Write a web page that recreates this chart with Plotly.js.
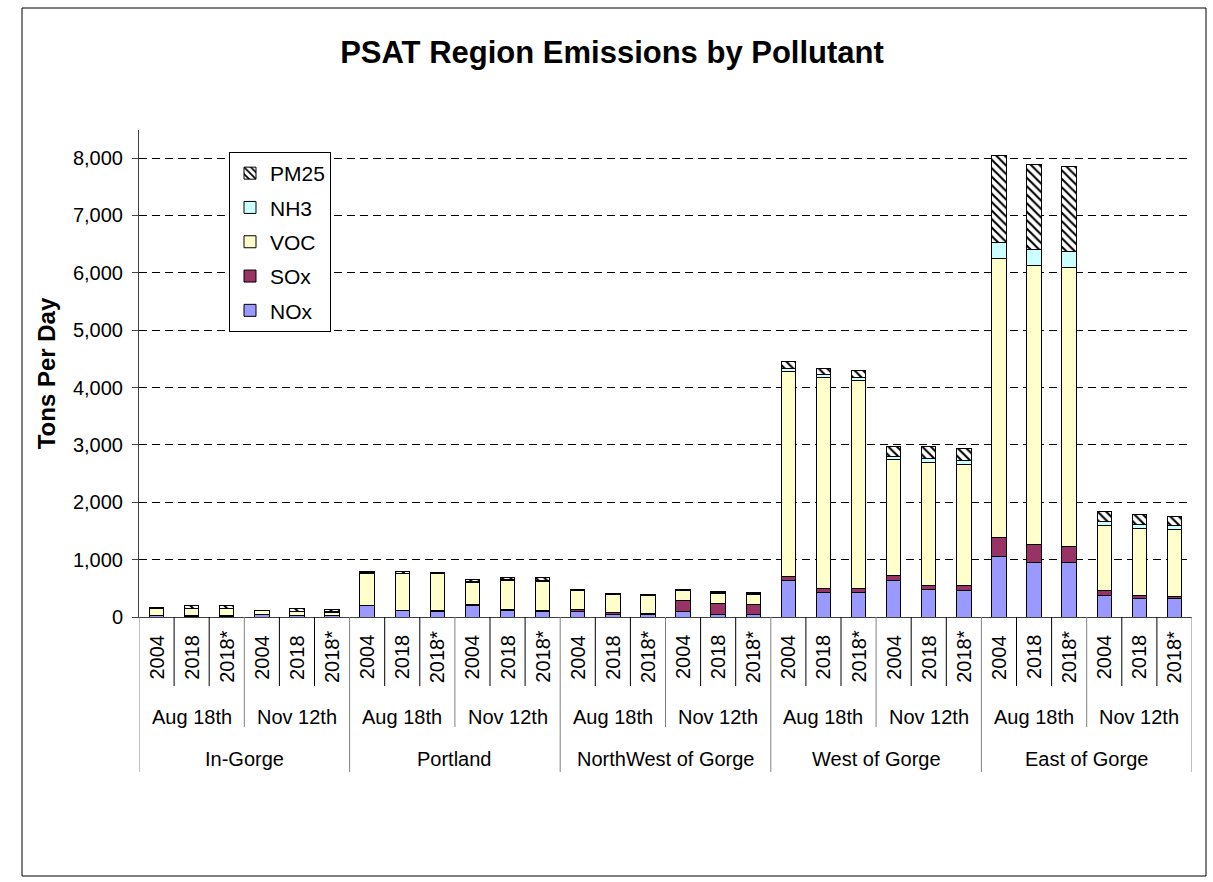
<!DOCTYPE html>
<html>
<head>
<meta charset="utf-8">
<script src="https://cdn.plot.ly/plotly-3.0.1.min.js"></script>
<style>html,body{margin:0;padding:0;background:#fff;}#chart{width:1213px;height:882px;}</style>
</head>
<body>
<div id="chart"></div>
<script>
const regions = ["In-Gorge", "Portland", "NorthWest of Gorge", "West of Gorge", "East of Gorge"];
const dates = ["Aug 18th", "Nov 12th"];
const years = ["2004", "2018", "2018*"];

const NOx  = [25,15,15,40,20,20, 195,105,100,205,120,100, 93,41,41,93,41,41, 640,430,430,640,480,460, 1050,950,950,370,320,320];
const SOx  = [5,5,5,5,10,10, 8,17,16,8,17,16, 46,40,23,197,197,174, 65,70,70,90,75,95, 343,314,279,93,57,36];
const VOC  = [120,130,128,60,60,55, 562,633,634,391,496,511, 318,306,306,173,178,184, 3575,3670,3620,2010,2145,2110, 4853,4868,4868,1128,1171,1163];
const NH3  = [3,5,5,3,10,10, 5,10,5,11,17,15, 5,5,5,5,8,8, 50,50,50,50,60,55, 286,271,278,71,71,72];
const PM25 = [7,40,40,10,40,40, 20,25,12,35,41,38, 15,20,20,20,23,17, 120,110,130,180,210,210, 1520,1485,1477,171,171,157];

// build category keys
const cats = [], catYear = [], catDate = [], catRegion = [];
regions.forEach(r => dates.forEach(d => years.forEach(y => {
  cats.push(r + "|" + d + "|" + y); catYear.push(y); catDate.push(d); catRegion.push(r);
})));

const FONT = "Liberation Sans, Arial, sans-serif";
const line = {color: "#000", width: 1};
function bar(name, vals, color, rank, extra) {
  return {
    type: "bar", name: name, x: cats, y: vals, legendgroup: name, legendrank: rank,
    marker: Object.assign({color: color, line: line}, extra || {}),
    hoverinfo: "name+y"
  };
}
const data = [
  bar("NOx", NOx, "#9999FF", 5),
  bar("SOx", SOx, "#993366", 4),
  bar("VOC", VOC, "#FFFFCC", 3),
  bar("NH3", NH3, "#CCFFFF", 2),
  bar("PM25", PM25, "#FFFFFF", 1, {pattern: {shape: "\\", fgcolor: "#000", bgcolor: "#fff", size: 6, solidity: 0.35}})
];

// pixel geometry helpers
const L = 139, R = 1192, T = 130, B = 617;
const py = p => (B - p) / (B - T);
const px = p => (p - L) / (R - L);

const shapes = [], annotations = [];
const n = cats.length;
const LBL = {family: FONT, size: 20, color: "#000"};
for (let i = 0; i < n; i++) {
  annotations.push({xref: "x", yref: "paper", x: i, y: py(657), text: catYear[i], textangle: -90,
    showarrow: false, font: LBL, xanchor: "center", yanchor: "middle"});
}
// separators
for (let b = -0.5; b <= n - 0.5; b += 1) {
  const k = Math.round(b + 0.5); // boundary index
  let bottom, color;
  if (k % 6 === 0) { bottom = 772; color = "#808080"; }
  else if (k % 3 === 0) { bottom = 727; color = "#808080"; }
  else { bottom = 686; color = "#000"; }
  shapes.push({type: "line", xref: "x", yref: "paper", x0: b, x1: b, y0: 0, y1: py(bottom), line: {color: color, width: 1}});
}
// date and region labels
for (let i = 0; i < n; i += 3) {
  annotations.push({xref: "x", yref: "paper", x: i + 1, y: py(717), text: catDate[i], showarrow: false,
    font: LBL, xanchor: "center", yanchor: "middle"});
}
for (let i = 0; i < n; i += 6) {
  annotations.push({xref: "x", yref: "paper", x: i + 2.5, y: py(759), text: catRegion[i], showarrow: false,
    font: LBL, xanchor: "center", yanchor: "middle"});
}
// outer chart frame
shapes.push({type: "rect", xref: "paper", yref: "paper", x0: px(22), x1: px(1206), y0: py(876), y1: py(8),
  line: {color: "#000", width: 1}, fillcolor: "rgba(0,0,0,0)", layer: "below"});

const layout = {
  width: 1213, height: 882,
  margin: {l: L, r: 1213 - R, t: T, b: 882 - B, pad: 0},
  paper_bgcolor: "#fff", plot_bgcolor: "#fff",
  font: {family: FONT, size: 20, color: "#000"},
  title: {text: "<b>PSAT Region Emissions by Pollutant</b>", xref: "container", yref: "container",
    x: 612 / 1213, y: 1 - 52 / 882, xanchor: "center", yanchor: "middle",
    font: {family: FONT, size: 31, color: "#000"}},
  barmode: "stack", bargap: 0.59,
  showlegend: true,
  legend: {x: px(229), y: py(152), xanchor: "left", yanchor: "top", bgcolor: "#fff",
    bordercolor: "#000", borderwidth: 1, traceorder: "grouped", tracegroupgap: 4,
    font: {family: FONT, size: 21, color: "#000"}, itemclick: false, itemdoubleclick: false},
  xaxis: {type: "category", categoryorder: "array", categoryarray: cats, range: [-0.5, n - 0.5],
    showticklabels: false, ticks: "", showgrid: false, showline: true, linecolor: "#404040", linewidth: 1,
    zeroline: false, fixedrange: true},
  yaxis: {range: [0, 8000 * (B - T) / (B - 158)], tickvals: [0,1000,2000,3000,4000,5000,6000,7000,8000],
    tickformat: ",d", ticks: "outside", ticklen: 6, tickcolor: "#404040", ticklabelstandoff: 5,
    showline: true, linecolor: "#404040", linewidth: 1,
    showgrid: true, gridcolor: "#000", griddash: "8px,5px", gridwidth: 1,
    zeroline: true, zerolinecolor: "#404040", zerolinewidth: 1,
    tickfont: {family: FONT, size: 20, color: "#000"},
    title: {text: "<b>Tons Per Day</b>", standoff: 10, font: {family: FONT, size: 24, color: "#000"}},
    fixedrange: true},
  shapes: shapes, annotations: annotations
};

Plotly.newPlot("chart", data, layout, {displayModeBar: false, staticPlot: true});
</script>
</body>
</html>
